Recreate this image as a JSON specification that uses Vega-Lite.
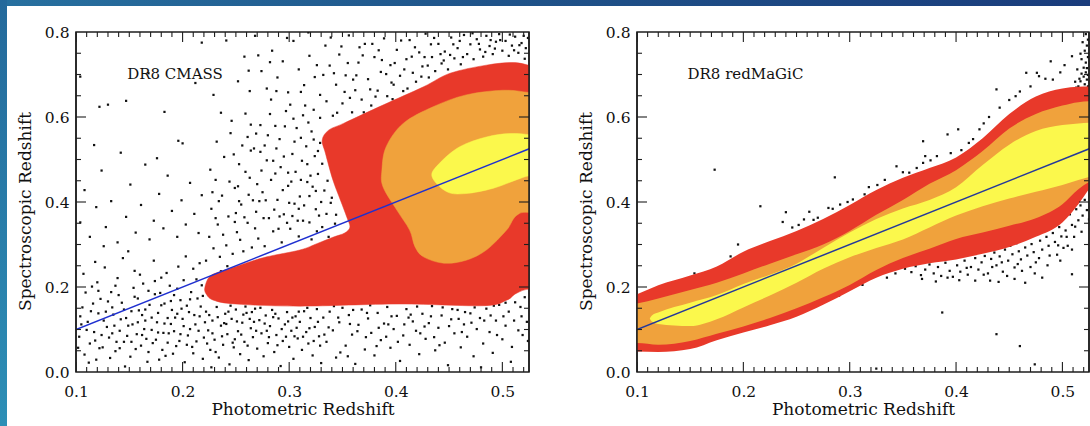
{
  "$schema": "https://vega.github.io/schema/vega-lite/v6.json",
  "background": "white",
  "padding": 0,
  "bounds": "flush",
  "spacing": 0,
  "hconcat": [
    {
      "width": 7,
      "height": 426,
      "data": {"values": [{"v": 0}]},
      "mark": {"type": "point", "opacity": 0},
      "view": {"stroke": null, "fill": {"gradient": "linear", "x1": 0, "y1": 0, "x2": 0, "y2": 1, "stops": [{"offset": 0, "color": "#24699b"}, {"offset": 1, "color": "#2d8fb6"}]}}
    },
    {
      "bounds": "flush",
      "spacing": 26,
      "vconcat": [
        {
          "width": 1083,
          "height": 6,
          "data": {"values": [{"v": 0}]},
          "mark": {"type": "point", "opacity": 0},
          "view": {"stroke": null, "fill": {"gradient": "linear", "x1": 0, "y1": 0, "x2": 1, "y2": 0, "stops": [{"offset": 0, "color": "#27709f"}, {"offset": 0.45, "color": "#1f5389"}, {"offset": 1, "color": "#1a3c7c"}]}}
        },
        {
          "bounds": "flush",
          "spacing": 0,
          "hconcat": [
            {
              "width": 69,
              "height": 340,
              "data": {"values": [{"v": 0}]},
              "mark": {"type": "point", "opacity": 0},
              "view": {"stroke": null}
            },
            {
              "bounds": "flush",
              "spacing": 108,
              "hconcat": [
                {
                  "width": 453,
                  "height": 340,
                  "resolve": {"axis": {"x": "independent", "y": "independent"}},
                  "layer": [
                    {
                      "data": {"name": "cmass_points"},
                      "mark": {"type": "square", "size": 5, "color": "#111111", "opacity": 1, "clip": true},
                      "encoding": {
                        "x": {"field": "x", "type": "quantitative", "scale": {"domain": [0.1, 0.525], "nice": false, "zero": false},
                              "axis": {"orient": "bottom", "values": [0.1, 0.2, 0.3, 0.4, 0.5], "format": ".1f", "ticks": false, "domain": false, "labelFlush": false, "labelPadding": 12, "title": "Photometric Redshift", "titlePadding": 2}},
                        "y": {"field": "y", "type": "quantitative", "scale": {"domain": [0, 0.8], "nice": false, "zero": false},
                              "axis": {"orient": "left", "values": [0, 0.2, 0.4, 0.6, 0.8], "format": ".1f", "ticks": false, "domain": false, "labelFlush": false, "labelPadding": 7, "title": "Spectroscopic Redshift", "titlePadding": 10, "titleY": 179}}
                      }
                    },
                    {
                      "data": {"name": "cmass_contours"},
                      "transform": [{"filter": "datum.level === 'outer'"}],
                      "mark": {"type": "line", "interpolate": "cardinal-closed", "fill": "#e8392a", "stroke": "#e8392a", "strokeWidth": 0.5, "clip": true},
                      "encoding": {
                        "x": {"field": "x", "type": "quantitative", "scale": {"domain": [0.1, 0.525], "nice": false, "zero": false}, "axis": null},
                        "y": {"field": "y", "type": "quantitative", "scale": {"domain": [0, 0.8], "nice": false, "zero": false}, "axis": null},
                        "order": {"field": "i", "type": "quantitative"}
                      }
                    },
                    {
                      "data": {"name": "cmass_contours"},
                      "transform": [{"filter": "datum.level === 'middle'"}],
                      "mark": {"type": "line", "interpolate": "cardinal-closed", "fill": "#f0a23c", "stroke": "#f0a23c", "strokeWidth": 0.5, "clip": true},
                      "encoding": {
                        "x": {"field": "x", "type": "quantitative", "scale": {"domain": [0.1, 0.525], "nice": false, "zero": false}, "axis": null},
                        "y": {"field": "y", "type": "quantitative", "scale": {"domain": [0, 0.8], "nice": false, "zero": false}, "axis": null},
                        "order": {"field": "i", "type": "quantitative"}
                      }
                    },
                    {
                      "data": {"name": "cmass_contours"},
                      "transform": [{"filter": "datum.level === 'inner'"}],
                      "mark": {"type": "line", "interpolate": "cardinal-closed", "fill": "#fbf84c", "stroke": "#fbf84c", "strokeWidth": 0.5, "clip": true},
                      "encoding": {
                        "x": {"field": "x", "type": "quantitative", "scale": {"domain": [0.1, 0.525], "nice": false, "zero": false}, "axis": null},
                        "y": {"field": "y", "type": "quantitative", "scale": {"domain": [0, 0.8], "nice": false, "zero": false}, "axis": null},
                        "order": {"field": "i", "type": "quantitative"}
                      }
                    },
                    {
                      "data": {"name": "diagonal"},
                      "mark": {"type": "line", "color": "#1f30d0", "strokeWidth": 1.5, "clip": true},
                      "encoding": {
                        "x": {"field": "x", "type": "quantitative", "scale": {"domain": [0.1, 0.525], "nice": false, "zero": false}, "axis": null},
                        "y": {"field": "y", "type": "quantitative", "scale": {"domain": [0, 0.8], "nice": false, "zero": false}, "axis": null}
                      }
                    },
                    {
                      "data": {"name": "x_ticks"},
                      "mark": {"type": "tick", "orient": "vertical", "thickness": 1.1, "color": "#1e1e1e", "opacity": 1, "clip": true},
                      "encoding": {
                        "x": {"field": "v", "type": "quantitative", "scale": {"domain": [0.1, 0.525], "nice": false, "zero": false}, "axis": null},
                        "y": {"datum": 0, "scale": {"domain": [0, 0.8], "nice": false, "zero": false}, "axis": null},
                        "size": {"field": "kind", "type": "nominal", "scale": {"domain": ["major", "minor"], "range": [20, 10]}, "legend": null}
                      }
                    },
                    {
                      "data": {"name": "x_ticks"},
                      "mark": {"type": "tick", "orient": "vertical", "thickness": 1.1, "color": "#1e1e1e", "opacity": 1, "clip": true},
                      "encoding": {
                        "x": {"field": "v", "type": "quantitative", "scale": {"domain": [0.1, 0.525], "nice": false, "zero": false}, "axis": null},
                        "y": {"datum": 0.8, "scale": {"domain": [0, 0.8], "nice": false, "zero": false}, "axis": null},
                        "size": {"field": "kind", "type": "nominal", "scale": {"domain": ["major", "minor"], "range": [20, 10]}, "legend": null}
                      }
                    },
                    {
                      "data": {"name": "y_ticks"},
                      "mark": {"type": "tick", "orient": "horizontal", "thickness": 1.1, "color": "#1e1e1e", "opacity": 1, "clip": true},
                      "encoding": {
                        "y": {"field": "v", "type": "quantitative", "scale": {"domain": [0, 0.8], "nice": false, "zero": false}, "axis": null},
                        "x": {"datum": 0.1, "scale": {"domain": [0.1, 0.525], "nice": false, "zero": false}, "axis": null},
                        "size": {"field": "kind", "type": "nominal", "scale": {"domain": ["major", "minor"], "range": [20, 10]}, "legend": null}
                      }
                    },
                    {
                      "data": {"name": "y_ticks"},
                      "mark": {"type": "tick", "orient": "horizontal", "thickness": 1.1, "color": "#1e1e1e", "opacity": 1, "clip": true},
                      "encoding": {
                        "y": {"field": "v", "type": "quantitative", "scale": {"domain": [0, 0.8], "nice": false, "zero": false}, "axis": null},
                        "x": {"datum": 0.525, "scale": {"domain": [0.1, 0.525], "nice": false, "zero": false}, "axis": null},
                        "size": {"field": "kind", "type": "nominal", "scale": {"domain": ["major", "minor"], "range": [20, 10]}, "legend": null}
                      }
                    },
                    {
                      "data": {"name": "frame_edges"},
                      "mark": {"type": "rule", "color": "#1e1e1e", "strokeWidth": 1.5},
                      "encoding": {
                        "x": {"field": "x", "type": "quantitative", "scale": {"domain": [0.1, 0.525], "nice": false, "zero": false}, "axis": null}
                      }
                    },
                    {
                      "data": {"values": [{"x": 0.148, "y": 0.702, "label": "DR8 CMASS"}]},
                      "mark": {"type": "text", "align": "left", "baseline": "middle", "font": "DejaVu Serif", "fontSize": 15, "color": "#111111"},
                      "encoding": {
                        "x": {"field": "x", "type": "quantitative", "scale": {"domain": [0.1, 0.525], "nice": false, "zero": false}, "axis": null},
                        "y": {"field": "y", "type": "quantitative", "scale": {"domain": [0, 0.8], "nice": false, "zero": false}, "axis": null},
                        "text": {"field": "label"}
                      }
                    }
                  ]
                },
                {
                  "width": 452,
                  "height": 340,
                  "resolve": {"axis": {"x": "independent", "y": "independent"}},
                  "layer": [
                    {
                      "data": {"name": "redmagic_points"},
                      "mark": {"type": "square", "size": 5, "color": "#111111", "opacity": 1, "clip": true},
                      "encoding": {
                        "x": {"field": "x", "type": "quantitative", "scale": {"domain": [0.1, 0.525], "nice": false, "zero": false},
                              "axis": {"orient": "bottom", "values": [0.1, 0.2, 0.3, 0.4, 0.5], "format": ".1f", "ticks": false, "domain": false, "labelFlush": false, "labelPadding": 12, "title": "Photometric Redshift", "titlePadding": 2}},
                        "y": {"field": "y", "type": "quantitative", "scale": {"domain": [0, 0.8], "nice": false, "zero": false},
                              "axis": {"orient": "left", "values": [0, 0.2, 0.4, 0.6, 0.8], "format": ".1f", "ticks": false, "domain": false, "labelFlush": false, "labelPadding": 7, "title": "Spectroscopic Redshift", "titlePadding": 10, "titleY": 179}}
                      }
                    },
                    {
                      "data": {"name": "redmagic_bands"},
                      "transform": [{"filter": "datum.level === 'outer'"}],
                      "mark": {"type": "area", "interpolate": "monotone", "color": "#e8392a", "opacity": 1, "clip": true},
                      "encoding": {
                        "x": {"field": "x", "type": "quantitative", "scale": {"domain": [0.1, 0.525], "nice": false, "zero": false}, "axis": null},
                        "y": {"field": "hi", "type": "quantitative", "scale": {"domain": [0, 0.8], "nice": false, "zero": false}, "axis": null},
                        "y2": {"field": "lo"}
                      }
                    },
                    {
                      "data": {"name": "redmagic_bands"},
                      "transform": [{"filter": "datum.level === 'middle'"}],
                      "mark": {"type": "area", "interpolate": "monotone", "color": "#f0a23c", "opacity": 1, "clip": true},
                      "encoding": {
                        "x": {"field": "x", "type": "quantitative", "scale": {"domain": [0.1, 0.525], "nice": false, "zero": false}, "axis": null},
                        "y": {"field": "hi", "type": "quantitative", "scale": {"domain": [0, 0.8], "nice": false, "zero": false}, "axis": null},
                        "y2": {"field": "lo"}
                      }
                    },
                    {
                      "data": {"name": "redmagic_bands"},
                      "transform": [{"filter": "datum.level === 'inner'"}],
                      "mark": {"type": "area", "interpolate": "monotone", "color": "#fbf84c", "opacity": 1, "clip": true},
                      "encoding": {
                        "x": {"field": "x", "type": "quantitative", "scale": {"domain": [0.1, 0.525], "nice": false, "zero": false}, "axis": null},
                        "y": {"field": "hi", "type": "quantitative", "scale": {"domain": [0, 0.8], "nice": false, "zero": false}, "axis": null},
                        "y2": {"field": "lo"}
                      }
                    },
                    {
                      "data": {"name": "diagonal"},
                      "mark": {"type": "line", "color": "#25389a", "strokeWidth": 1.5, "clip": true},
                      "encoding": {
                        "x": {"field": "x", "type": "quantitative", "scale": {"domain": [0.1, 0.525], "nice": false, "zero": false}, "axis": null},
                        "y": {"field": "y", "type": "quantitative", "scale": {"domain": [0, 0.8], "nice": false, "zero": false}, "axis": null}
                      }
                    },
                    {
                      "data": {"name": "x_ticks"},
                      "mark": {"type": "tick", "orient": "vertical", "thickness": 1.1, "color": "#1e1e1e", "opacity": 1, "clip": true},
                      "encoding": {
                        "x": {"field": "v", "type": "quantitative", "scale": {"domain": [0.1, 0.525], "nice": false, "zero": false}, "axis": null},
                        "y": {"datum": 0, "scale": {"domain": [0, 0.8], "nice": false, "zero": false}, "axis": null},
                        "size": {"field": "kind", "type": "nominal", "scale": {"domain": ["major", "minor"], "range": [20, 10]}, "legend": null}
                      }
                    },
                    {
                      "data": {"name": "x_ticks"},
                      "mark": {"type": "tick", "orient": "vertical", "thickness": 1.1, "color": "#1e1e1e", "opacity": 1, "clip": true},
                      "encoding": {
                        "x": {"field": "v", "type": "quantitative", "scale": {"domain": [0.1, 0.525], "nice": false, "zero": false}, "axis": null},
                        "y": {"datum": 0.8, "scale": {"domain": [0, 0.8], "nice": false, "zero": false}, "axis": null},
                        "size": {"field": "kind", "type": "nominal", "scale": {"domain": ["major", "minor"], "range": [20, 10]}, "legend": null}
                      }
                    },
                    {
                      "data": {"name": "y_ticks"},
                      "mark": {"type": "tick", "orient": "horizontal", "thickness": 1.1, "color": "#1e1e1e", "opacity": 1, "clip": true},
                      "encoding": {
                        "y": {"field": "v", "type": "quantitative", "scale": {"domain": [0, 0.8], "nice": false, "zero": false}, "axis": null},
                        "x": {"datum": 0.1, "scale": {"domain": [0.1, 0.525], "nice": false, "zero": false}, "axis": null},
                        "size": {"field": "kind", "type": "nominal", "scale": {"domain": ["major", "minor"], "range": [20, 10]}, "legend": null}
                      }
                    },
                    {
                      "data": {"name": "y_ticks"},
                      "mark": {"type": "tick", "orient": "horizontal", "thickness": 1.1, "color": "#1e1e1e", "opacity": 1, "clip": true},
                      "encoding": {
                        "y": {"field": "v", "type": "quantitative", "scale": {"domain": [0, 0.8], "nice": false, "zero": false}, "axis": null},
                        "x": {"datum": 0.525, "scale": {"domain": [0.1, 0.525], "nice": false, "zero": false}, "axis": null},
                        "size": {"field": "kind", "type": "nominal", "scale": {"domain": ["major", "minor"], "range": [20, 10]}, "legend": null}
                      }
                    },
                    {
                      "data": {"name": "frame_edges"},
                      "mark": {"type": "rule", "color": "#1e1e1e", "strokeWidth": 1.5},
                      "encoding": {
                        "x": {"field": "x", "type": "quantitative", "scale": {"domain": [0.1, 0.525], "nice": false, "zero": false}, "axis": null}
                      }
                    },
                    {
                      "data": {"values": [{"x": 0.1475, "y": 0.702, "label": "DR8 redMaGiC"}]},
                      "mark": {"type": "text", "align": "left", "baseline": "middle", "font": "DejaVu Serif", "fontSize": 15, "color": "#111111"},
                      "encoding": {
                        "x": {"field": "x", "type": "quantitative", "scale": {"domain": [0.1, 0.525], "nice": false, "zero": false}, "axis": null},
                        "y": {"field": "y", "type": "quantitative", "scale": {"domain": [0, 0.8], "nice": false, "zero": false}, "axis": null},
                        "text": {"field": "label"}
                      }
                    }
                  ]
                }
              ]
            }
          ]
        }
      ]
    }
  ],
  "datasets": {
    "diagonal": [{"x": 0.1, "y": 0.1}, {"x": 0.53, "y": 0.53}],
    "frame_edges": [{"x": 0.1}, {"x": 0.525}],
    "x_ticks": [
      {"v":0.1,"kind":"major"},{"v":0.2,"kind":"major"},{"v":0.3,"kind":"major"},{"v":0.4,"kind":"major"},{"v":0.5,"kind":"major"},
      {"v":0.11,"kind":"minor"},{"v":0.12,"kind":"minor"},{"v":0.13,"kind":"minor"},{"v":0.14,"kind":"minor"},{"v":0.15,"kind":"minor"},{"v":0.16,"kind":"minor"},{"v":0.17,"kind":"minor"},{"v":0.18,"kind":"minor"},{"v":0.19,"kind":"minor"},
      {"v":0.21,"kind":"minor"},{"v":0.22,"kind":"minor"},{"v":0.23,"kind":"minor"},{"v":0.24,"kind":"minor"},{"v":0.25,"kind":"minor"},{"v":0.26,"kind":"minor"},{"v":0.27,"kind":"minor"},{"v":0.28,"kind":"minor"},{"v":0.29,"kind":"minor"},
      {"v":0.31,"kind":"minor"},{"v":0.32,"kind":"minor"},{"v":0.33,"kind":"minor"},{"v":0.34,"kind":"minor"},{"v":0.35,"kind":"minor"},{"v":0.36,"kind":"minor"},{"v":0.37,"kind":"minor"},{"v":0.38,"kind":"minor"},{"v":0.39,"kind":"minor"},
      {"v":0.41,"kind":"minor"},{"v":0.42,"kind":"minor"},{"v":0.43,"kind":"minor"},{"v":0.44,"kind":"minor"},{"v":0.45,"kind":"minor"},{"v":0.46,"kind":"minor"},{"v":0.47,"kind":"minor"},{"v":0.48,"kind":"minor"},{"v":0.49,"kind":"minor"},
      {"v":0.51,"kind":"minor"},{"v":0.52,"kind":"minor"}
    ],
    "y_ticks": [
      {"v":0.2,"kind":"major"},{"v":0.4,"kind":"major"},{"v":0.6,"kind":"major"},
      {"v":0.05,"kind":"minor"},{"v":0.1,"kind":"minor"},{"v":0.15,"kind":"minor"},{"v":0.25,"kind":"minor"},{"v":0.3,"kind":"minor"},{"v":0.35,"kind":"minor"},
      {"v":0.45,"kind":"minor"},{"v":0.5,"kind":"minor"},{"v":0.55,"kind":"minor"},{"v":0.65,"kind":"minor"},{"v":0.7,"kind":"minor"},{"v":0.75,"kind":"minor"}
    ],
    "cmass_contours": [
      {"level": "outer", "i": 0, "x": 0.221, "y": 0.200},
      {"level": "outer", "i": 1, "x": 0.226, "y": 0.226},
      {"level": "outer", "i": 2, "x": 0.240, "y": 0.240},
      {"level": "outer", "i": 3, "x": 0.259, "y": 0.256},
      {"level": "outer", "i": 4, "x": 0.279, "y": 0.271},
      {"level": "outer", "i": 5, "x": 0.310, "y": 0.287},
      {"level": "outer", "i": 6, "x": 0.326, "y": 0.302},
      {"level": "outer", "i": 7, "x": 0.341, "y": 0.317},
      {"level": "outer", "i": 8, "x": 0.352, "y": 0.327},
      {"level": "outer", "i": 9, "x": 0.357, "y": 0.341},
      {"level": "outer", "i": 10, "x": 0.354, "y": 0.365},
      {"level": "outer", "i": 11, "x": 0.348, "y": 0.405},
      {"level": "outer", "i": 12, "x": 0.341, "y": 0.452},
      {"level": "outer", "i": 13, "x": 0.334, "y": 0.515},
      {"level": "outer", "i": 14, "x": 0.331, "y": 0.546},
      {"level": "outer", "i": 15, "x": 0.337, "y": 0.569},
      {"level": "outer", "i": 16, "x": 0.351, "y": 0.585},
      {"level": "outer", "i": 17, "x": 0.388, "y": 0.628},
      {"level": "outer", "i": 18, "x": 0.426, "y": 0.671},
      {"level": "outer", "i": 19, "x": 0.451, "y": 0.703},
      {"level": "outer", "i": 20, "x": 0.485, "y": 0.722},
      {"level": "outer", "i": 21, "x": 0.510, "y": 0.728},
      {"level": "outer", "i": 22, "x": 0.527, "y": 0.720},
      {"level": "outer", "i": 23, "x": 0.550, "y": 0.700},
      {"level": "outer", "i": 24, "x": 0.550, "y": 0.180},
      {"level": "outer", "i": 25, "x": 0.527, "y": 0.195},
      {"level": "outer", "i": 26, "x": 0.513, "y": 0.185},
      {"level": "outer", "i": 27, "x": 0.504, "y": 0.169},
      {"level": "outer", "i": 28, "x": 0.482, "y": 0.156},
      {"level": "outer", "i": 29, "x": 0.404, "y": 0.160},
      {"level": "outer", "i": 30, "x": 0.310, "y": 0.155},
      {"level": "outer", "i": 31, "x": 0.250, "y": 0.160},
      {"level": "outer", "i": 32, "x": 0.229, "y": 0.169},
      {"level": "outer", "i": 33, "x": 0.222, "y": 0.184},
      {"level": "middle", "i": 0, "x": 0.387, "y": 0.475},
      {"level": "middle", "i": 1, "x": 0.391, "y": 0.530},
      {"level": "middle", "i": 2, "x": 0.407, "y": 0.585},
      {"level": "middle", "i": 3, "x": 0.435, "y": 0.624},
      {"level": "middle", "i": 4, "x": 0.466, "y": 0.652},
      {"level": "middle", "i": 5, "x": 0.501, "y": 0.663},
      {"level": "middle", "i": 6, "x": 0.527, "y": 0.657},
      {"level": "middle", "i": 7, "x": 0.550, "y": 0.650},
      {"level": "middle", "i": 8, "x": 0.550, "y": 0.400},
      {"level": "middle", "i": 9, "x": 0.516, "y": 0.373},
      {"level": "middle", "i": 10, "x": 0.504, "y": 0.334},
      {"level": "middle", "i": 11, "x": 0.485, "y": 0.287},
      {"level": "middle", "i": 12, "x": 0.466, "y": 0.263},
      {"level": "middle", "i": 13, "x": 0.445, "y": 0.256},
      {"level": "middle", "i": 14, "x": 0.426, "y": 0.271},
      {"level": "middle", "i": 15, "x": 0.418, "y": 0.295},
      {"level": "middle", "i": 16, "x": 0.413, "y": 0.334},
      {"level": "middle", "i": 17, "x": 0.401, "y": 0.381},
      {"level": "middle", "i": 18, "x": 0.388, "y": 0.436},
      {"level": "inner", "i": 0, "x": 0.434, "y": 0.460},
      {"level": "inner", "i": 1, "x": 0.441, "y": 0.491},
      {"level": "inner", "i": 2, "x": 0.460, "y": 0.530},
      {"level": "inner", "i": 3, "x": 0.485, "y": 0.553},
      {"level": "inner", "i": 4, "x": 0.507, "y": 0.561},
      {"level": "inner", "i": 5, "x": 0.527, "y": 0.558},
      {"level": "inner", "i": 6, "x": 0.550, "y": 0.550},
      {"level": "inner", "i": 7, "x": 0.550, "y": 0.470},
      {"level": "inner", "i": 8, "x": 0.527, "y": 0.463},
      {"level": "inner", "i": 9, "x": 0.513, "y": 0.452},
      {"level": "inner", "i": 10, "x": 0.491, "y": 0.432},
      {"level": "inner", "i": 11, "x": 0.466, "y": 0.420},
      {"level": "inner", "i": 12, "x": 0.448, "y": 0.424}
    ],
    "redmagic_bands": [
      {"level": "outer", "x": 0.09, "lo": 0.048, "hi": 0.175},
      {"level": "outer", "x": 0.10, "lo": 0.048, "hi": 0.183},
      {"level": "outer", "x": 0.12, "lo": 0.047, "hi": 0.204},
      {"level": "outer", "x": 0.15, "lo": 0.054, "hi": 0.227},
      {"level": "outer", "x": 0.175, "lo": 0.075, "hi": 0.248},
      {"level": "outer", "x": 0.20, "lo": 0.093, "hi": 0.283},
      {"level": "outer", "x": 0.225, "lo": 0.110, "hi": 0.308},
      {"level": "outer", "x": 0.25, "lo": 0.130, "hi": 0.332},
      {"level": "outer", "x": 0.275, "lo": 0.158, "hi": 0.360},
      {"level": "outer", "x": 0.30, "lo": 0.190, "hi": 0.393},
      {"level": "outer", "x": 0.325, "lo": 0.222, "hi": 0.428},
      {"level": "outer", "x": 0.35, "lo": 0.243, "hi": 0.457},
      {"level": "outer", "x": 0.375, "lo": 0.256, "hi": 0.480},
      {"level": "outer", "x": 0.40, "lo": 0.265, "hi": 0.505},
      {"level": "outer", "x": 0.425, "lo": 0.278, "hi": 0.550},
      {"level": "outer", "x": 0.45, "lo": 0.294, "hi": 0.607},
      {"level": "outer", "x": 0.475, "lo": 0.318, "hi": 0.648},
      {"level": "outer", "x": 0.50, "lo": 0.352, "hi": 0.667},
      {"level": "outer", "x": 0.515, "lo": 0.395, "hi": 0.671},
      {"level": "outer", "x": 0.535, "lo": 0.470, "hi": 0.672},
      {"level": "middle", "x": 0.09, "lo": 0.068, "hi": 0.156},
      {"level": "middle", "x": 0.10, "lo": 0.068, "hi": 0.161},
      {"level": "middle", "x": 0.12, "lo": 0.064, "hi": 0.173},
      {"level": "middle", "x": 0.15, "lo": 0.073, "hi": 0.193},
      {"level": "middle", "x": 0.175, "lo": 0.090, "hi": 0.210},
      {"level": "middle", "x": 0.20, "lo": 0.107, "hi": 0.232},
      {"level": "middle", "x": 0.225, "lo": 0.127, "hi": 0.255},
      {"level": "middle", "x": 0.25, "lo": 0.150, "hi": 0.277},
      {"level": "middle", "x": 0.275, "lo": 0.176, "hi": 0.300},
      {"level": "middle", "x": 0.30, "lo": 0.205, "hi": 0.332},
      {"level": "middle", "x": 0.325, "lo": 0.240, "hi": 0.370},
      {"level": "middle", "x": 0.35, "lo": 0.268, "hi": 0.405},
      {"level": "middle", "x": 0.375, "lo": 0.290, "hi": 0.443},
      {"level": "middle", "x": 0.40, "lo": 0.313, "hi": 0.475},
      {"level": "middle", "x": 0.425, "lo": 0.328, "hi": 0.520},
      {"level": "middle", "x": 0.45, "lo": 0.344, "hi": 0.573},
      {"level": "middle", "x": 0.475, "lo": 0.362, "hi": 0.607},
      {"level": "middle", "x": 0.50, "lo": 0.395, "hi": 0.627},
      {"level": "middle", "x": 0.515, "lo": 0.430, "hi": 0.635},
      {"level": "middle", "x": 0.535, "lo": 0.460, "hi": 0.638},
      {"level": "inner", "x": 0.112, "lo": 0.126, "hi": 0.126},
      {"level": "inner", "x": 0.114, "lo": 0.119, "hi": 0.133},
      {"level": "inner", "x": 0.12, "lo": 0.113, "hi": 0.140},
      {"level": "inner", "x": 0.15, "lo": 0.108, "hi": 0.163},
      {"level": "inner", "x": 0.175, "lo": 0.124, "hi": 0.181},
      {"level": "inner", "x": 0.20, "lo": 0.152, "hi": 0.207},
      {"level": "inner", "x": 0.225, "lo": 0.180, "hi": 0.229},
      {"level": "inner", "x": 0.25, "lo": 0.210, "hi": 0.255},
      {"level": "inner", "x": 0.275, "lo": 0.243, "hi": 0.292},
      {"level": "inner", "x": 0.30, "lo": 0.270, "hi": 0.328},
      {"level": "inner", "x": 0.325, "lo": 0.292, "hi": 0.360},
      {"level": "inner", "x": 0.35, "lo": 0.312, "hi": 0.385},
      {"level": "inner", "x": 0.375, "lo": 0.340, "hi": 0.405},
      {"level": "inner", "x": 0.40, "lo": 0.368, "hi": 0.435},
      {"level": "inner", "x": 0.425, "lo": 0.390, "hi": 0.487},
      {"level": "inner", "x": 0.45, "lo": 0.408, "hi": 0.535},
      {"level": "inner", "x": 0.475, "lo": 0.424, "hi": 0.567},
      {"level": "inner", "x": 0.50, "lo": 0.440, "hi": 0.581},
      {"level": "inner", "x": 0.515, "lo": 0.452, "hi": 0.585},
      {"level": "inner", "x": 0.535, "lo": 0.465, "hi": 0.587}
    ],
    "cmass_points": [
      {"x":0.103,"y":0.083},{"x":0.106,"y":0.152},{"x":0.108,"y":0.041},{"x":0.111,"y":0.118},{"x":0.113,"y":0.067},{"x":0.115,"y":0.201},{"x":0.117,"y":0.094},{"x":0.119,"y":0.029},{"x":0.121,"y":0.138},{"x":0.123,"y":0.172},
      {"x":0.125,"y":0.058},{"x":0.127,"y":0.246},{"x":0.129,"y":0.106},{"x":0.131,"y":0.081},{"x":0.133,"y":0.188},{"x":0.135,"y":0.135},{"x":0.137,"y":0.049},{"x":0.139,"y":0.221},{"x":0.141,"y":0.097},{"x":0.143,"y":0.163},
      {"x":0.145,"y":0.071},{"x":0.147,"y":0.127},{"x":0.149,"y":0.284},{"x":0.151,"y":0.036},{"x":0.153,"y":0.112},{"x":0.155,"y":0.177},{"x":0.157,"y":0.089},{"x":0.159,"y":0.145},{"x":0.161,"y":0.062},{"x":0.163,"y":0.208},
      {"x":0.165,"y":0.121},{"x":0.167,"y":0.024},{"x":0.169,"y":0.158},{"x":0.171,"y":0.099},{"x":0.173,"y":0.262},{"x":0.175,"y":0.076},{"x":0.177,"y":0.139},{"x":0.179,"y":0.186},{"x":0.181,"y":0.052},{"x":0.183,"y":0.114},
      {"x":0.185,"y":0.233},{"x":0.187,"y":0.091},{"x":0.189,"y":0.167},{"x":0.191,"y":0.043},{"x":0.193,"y":0.128},{"x":0.195,"y":0.196},{"x":0.197,"y":0.073},{"x":0.199,"y":0.149},{"x":0.201,"y":0.108},{"x":0.203,"y":0.272},
      {"x":0.205,"y":0.086},{"x":0.207,"y":0.171},{"x":0.209,"y":0.059},{"x":0.211,"y":0.134},{"x":0.213,"y":0.218},{"x":0.215,"y":0.097},{"x":0.217,"y":0.154},{"x":0.219,"y":0.031},{"x":0.104,"y":0.131},{"x":0.109,"y":0.187},
      {"x":0.112,"y":0.022},{"x":0.116,"y":0.161},{"x":0.120,"y":0.211},{"x":0.124,"y":0.087},{"x":0.128,"y":0.142},{"x":0.132,"y":0.033},{"x":0.136,"y":0.109},{"x":0.140,"y":0.181},{"x":0.144,"y":0.268},{"x":0.148,"y":0.085},
      {"x":0.152,"y":0.143},{"x":0.156,"y":0.054},{"x":0.160,"y":0.229},{"x":0.164,"y":0.101},{"x":0.168,"y":0.191},{"x":0.172,"y":0.068},{"x":0.176,"y":0.117},{"x":0.180,"y":0.157},{"x":0.184,"y":0.038},{"x":0.188,"y":0.203},
      {"x":0.192,"y":0.096},{"x":0.196,"y":0.248},{"x":0.200,"y":0.125},{"x":0.204,"y":0.064},{"x":0.208,"y":0.188},{"x":0.212,"y":0.112},{"x":0.216,"y":0.256},{"x":0.220,"y":0.081},{"x":0.107,"y":0.231},{"x":0.118,"y":0.259},
      {"x":0.126,"y":0.296},{"x":0.134,"y":0.152},{"x":0.142,"y":0.124},{"x":0.154,"y":0.198},{"x":0.162,"y":0.134},{"x":0.174,"y":0.214},{"x":0.182,"y":0.092},{"x":0.190,"y":0.146},{"x":0.198,"y":0.169},{"x":0.206,"y":0.141},
      {"x":0.214,"y":0.173},{"x":0.218,"y":0.204},{"x":0.110,"y":0.099},{"x":0.122,"y":0.056},{"x":0.138,"y":0.071},{"x":0.146,"y":0.013},{"x":0.158,"y":0.117},{"x":0.166,"y":0.078},{"x":0.178,"y":0.029},{"x":0.186,"y":0.127},
      {"x":0.194,"y":0.061},{"x":0.202,"y":0.023},{"x":0.210,"y":0.044},
      {"x":0.102,"y":0.057},{"x":0.105,"y":0.112},{"x":0.114,"y":0.143},{"x":0.118,"y":0.074},{"x":0.121,"y":0.191},{"x":0.126,"y":0.121},{"x":0.130,"y":0.166},{"x":0.134,"y":0.091},{"x":0.137,"y":0.203},{"x":0.141,"y":0.056},
      {"x":0.145,"y":0.147},{"x":0.149,"y":0.109},{"x":0.152,"y":0.071},{"x":0.155,"y":0.238},{"x":0.158,"y":0.173},{"x":0.162,"y":0.087},{"x":0.165,"y":0.147},{"x":0.168,"y":0.047},{"x":0.171,"y":0.128},{"x":0.174,"y":0.183},
      {"x":0.177,"y":0.093},{"x":0.180,"y":0.222},{"x":0.183,"y":0.161},{"x":0.186,"y":0.069},{"x":0.189,"y":0.113},{"x":0.192,"y":0.181},{"x":0.195,"y":0.137},{"x":0.198,"y":0.089},{"x":0.201,"y":0.216},{"x":0.204,"y":0.156},
      {"x":0.207,"y":0.101},{"x":0.210,"y":0.243},{"x":0.213,"y":0.072},{"x":0.216,"y":0.131},{"x":0.219,"y":0.179},{"x":0.221,"y":0.117},{"x":0.223,"y":0.067},{"x":0.225,"y":0.134},{"x":0.228,"y":0.091},{"x":0.231,"y":0.047},
      {"x":0.233,"y":0.129},{"x":0.237,"y":0.084},{"x":0.241,"y":0.113},{"x":0.243,"y":0.142},{"x":0.247,"y":0.069},{"x":0.251,"y":0.119},{"x":0.255,"y":0.088},{"x":0.257,"y":0.135},{"x":0.261,"y":0.062},{"x":0.265,"y":0.141},
      {"x":0.269,"y":0.097},{"x":0.273,"y":0.151},{"x":0.277,"y":0.114},{"x":0.281,"y":0.082},{"x":0.287,"y":0.137},{"x":0.293,"y":0.101},{"x":0.297,"y":0.083},{"x":0.303,"y":0.128},{"x":0.307,"y":0.104},{"x":0.313,"y":0.083},
      {"x":0.317,"y":0.151},{"x":0.323,"y":0.073},{"x":0.327,"y":0.118},
      {"x":0.104,"y":0.352},{"x":0.108,"y":0.428},{"x":0.113,"y":0.318},{"x":0.119,"y":0.388},{"x":0.124,"y":0.474},{"x":0.128,"y":0.341},{"x":0.133,"y":0.402},{"x":0.139,"y":0.305},{"x":0.142,"y":0.516},{"x":0.147,"y":0.365},
      {"x":0.151,"y":0.441},{"x":0.156,"y":0.328},{"x":0.161,"y":0.393},{"x":0.165,"y":0.488},{"x":0.169,"y":0.312},{"x":0.173,"y":0.356},{"x":0.178,"y":0.419},{"x":0.182,"y":0.338},{"x":0.186,"y":0.462},{"x":0.190,"y":0.379},
      {"x":0.195,"y":0.318},{"x":0.199,"y":0.404},{"x":0.203,"y":0.347},{"x":0.207,"y":0.445},{"x":0.211,"y":0.372},{"x":0.215,"y":0.327},{"x":0.218,"y":0.416},{"x":0.200,"y":0.538},{"x":0.176,"y":0.503},{"x":0.117,"y":0.534},
      {"x":0.122,"y":0.624},{"x":0.130,"y":0.629},{"x":0.147,"y":0.638},{"x":0.183,"y":0.612},{"x":0.196,"y":0.544},{"x":0.168,"y":0.703},{"x":0.104,"y":0.695},{"x":0.229,"y":0.652},{"x":0.236,"y":0.610},{"x":0.218,"y":0.775},
      {"x":0.212,"y":0.680},{"x":0.241,"y":0.780},
      {"x":0.222,"y":0.142},{"x":0.224,"y":0.098},{"x":0.226,"y":0.052},{"x":0.228,"y":0.121},{"x":0.230,"y":0.076},{"x":0.232,"y":0.153},{"x":0.234,"y":0.034},{"x":0.236,"y":0.109},{"x":0.238,"y":0.064},{"x":0.240,"y":0.137},
      {"x":0.242,"y":0.089},{"x":0.244,"y":0.018},{"x":0.246,"y":0.125},{"x":0.248,"y":0.058},{"x":0.250,"y":0.147},{"x":0.252,"y":0.096},{"x":0.254,"y":0.042},{"x":0.256,"y":0.116},{"x":0.258,"y":0.071},{"x":0.260,"y":0.139},
      {"x":0.262,"y":0.028},{"x":0.264,"y":0.103},{"x":0.266,"y":0.082},{"x":0.268,"y":0.149},{"x":0.270,"y":0.055},{"x":0.272,"y":0.122},{"x":0.274,"y":0.091},{"x":0.276,"y":0.037},{"x":0.278,"y":0.133},{"x":0.280,"y":0.068},
      {"x":0.282,"y":0.108},{"x":0.284,"y":0.146},{"x":0.286,"y":0.047},{"x":0.288,"y":0.087},{"x":0.290,"y":0.126},{"x":0.292,"y":0.014},{"x":0.294,"y":0.073},{"x":0.296,"y":0.112},{"x":0.298,"y":0.141},{"x":0.300,"y":0.059},
      {"x":0.302,"y":0.097},{"x":0.304,"y":0.031},{"x":0.306,"y":0.131},{"x":0.308,"y":0.079},{"x":0.310,"y":0.118},{"x":0.312,"y":0.052},{"x":0.314,"y":0.143},{"x":0.316,"y":0.094},{"x":0.318,"y":0.067},{"x":0.320,"y":0.127},
      {"x":0.322,"y":0.039},{"x":0.324,"y":0.106},{"x":0.326,"y":0.148},{"x":0.328,"y":0.084},{"x":0.330,"y":0.021},{"x":0.227,"y":0.011},{"x":0.239,"y":0.115},{"x":0.249,"y":0.077},{"x":0.259,"y":0.154},{"x":0.267,"y":0.118},
      {"x":0.279,"y":0.097},{"x":0.289,"y":0.063},{"x":0.299,"y":0.119},{"x":0.309,"y":0.142},{"x":0.319,"y":0.103},{"x":0.329,"y":0.062},{"x":0.245,"y":0.156},{"x":0.263,"y":0.125},{"x":0.285,"y":0.129},{"x":0.305,"y":0.084},
      {"x":0.222,"y":0.262},{"x":0.225,"y":0.318},{"x":0.227,"y":0.384},{"x":0.229,"y":0.291},{"x":0.231,"y":0.452},{"x":0.233,"y":0.347},{"x":0.235,"y":0.271},{"x":0.237,"y":0.415},{"x":0.239,"y":0.506},{"x":0.241,"y":0.298},
      {"x":0.243,"y":0.366},{"x":0.245,"y":0.562},{"x":0.247,"y":0.278},{"x":0.249,"y":0.433},{"x":0.251,"y":0.329},{"x":0.253,"y":0.489},{"x":0.255,"y":0.394},{"x":0.257,"y":0.284},{"x":0.259,"y":0.608},{"x":0.261,"y":0.351},
      {"x":0.263,"y":0.457},{"x":0.265,"y":0.293},{"x":0.267,"y":0.526},{"x":0.269,"y":0.377},{"x":0.271,"y":0.314},{"x":0.273,"y":0.581},{"x":0.275,"y":0.423},{"x":0.277,"y":0.296},{"x":0.279,"y":0.498},{"x":0.281,"y":0.362},
      {"x":0.283,"y":0.641},{"x":0.285,"y":0.331},{"x":0.287,"y":0.467},{"x":0.289,"y":0.405},{"x":0.291,"y":0.548},{"x":0.293,"y":0.305},{"x":0.295,"y":0.371},{"x":0.297,"y":0.614},{"x":0.299,"y":0.438},{"x":0.301,"y":0.337},
      {"x":0.303,"y":0.513},{"x":0.305,"y":0.396},{"x":0.307,"y":0.574},{"x":0.309,"y":0.319},{"x":0.311,"y":0.452},{"x":0.313,"y":0.356},{"x":0.315,"y":0.627},{"x":0.317,"y":0.489},{"x":0.319,"y":0.414},{"x":0.321,"y":0.312},
      {"x":0.323,"y":0.547},{"x":0.325,"y":0.383},{"x":0.327,"y":0.466},{"x":0.329,"y":0.598},{"x":0.331,"y":0.341},{"x":0.333,"y":0.427},{"x":0.335,"y":0.372},{"x":0.337,"y":0.318},{"x":0.339,"y":0.398},{"x":0.343,"y":0.349},
      {"x":0.226,"y":0.476},{"x":0.232,"y":0.542},{"x":0.238,"y":0.323},{"x":0.244,"y":0.448},{"x":0.250,"y":0.374},{"x":0.256,"y":0.533},{"x":0.262,"y":0.417},{"x":0.268,"y":0.338},{"x":0.274,"y":0.474},{"x":0.280,"y":0.557},
      {"x":0.286,"y":0.382},{"x":0.292,"y":0.482},{"x":0.298,"y":0.351},{"x":0.304,"y":0.596},{"x":0.310,"y":0.413},{"x":0.316,"y":0.531},{"x":0.322,"y":0.436},{"x":0.328,"y":0.368},{"x":0.324,"y":0.508},{"x":0.318,"y":0.587},
      {"x":0.306,"y":0.471},{"x":0.294,"y":0.428},{"x":0.282,"y":0.607},{"x":0.270,"y":0.442},{"x":0.258,"y":0.364},{"x":0.246,"y":0.591},{"x":0.234,"y":0.402},{"x":0.276,"y":0.362},{"x":0.288,"y":0.526},{"x":0.300,"y":0.398},
      {"x":0.312,"y":0.497},{"x":0.326,"y":0.331},{"x":0.290,"y":0.337},{"x":0.266,"y":0.404},{"x":0.254,"y":0.311},{"x":0.242,"y":0.249},{"x":0.236,"y":0.237},{"x":0.308,"y":0.356},{"x":0.296,"y":0.578},{"x":0.320,"y":0.462},
      {"x":0.314,"y":0.392},{"x":0.302,"y":0.448},{"x":0.278,"y":0.404},{"x":0.264,"y":0.582},{"x":0.252,"y":0.437},{"x":0.336,"y":0.450},{"x":0.340,"y":0.410},{"x":0.344,"y":0.370},{"x":0.331,"y":0.490},{"x":0.327,"y":0.520},
      {"x":0.330,"y":0.400},
      {"x":0.248,"y":0.512},{"x":0.253,"y":0.402},{"x":0.259,"y":0.471},{"x":0.264,"y":0.521},{"x":0.269,"y":0.561},{"x":0.272,"y":0.402},{"x":0.277,"y":0.533},{"x":0.283,"y":0.452},{"x":0.287,"y":0.579},{"x":0.291,"y":0.366},
      {"x":0.295,"y":0.507},{"x":0.299,"y":0.469},{"x":0.301,"y":0.629},{"x":0.305,"y":0.542},{"x":0.309,"y":0.384},{"x":0.313,"y":0.604},{"x":0.317,"y":0.447},{"x":0.321,"y":0.566},{"x":0.325,"y":0.426},{"x":0.329,"y":0.539},
      {"x":0.323,"y":0.617},{"x":0.311,"y":0.551},{"x":0.303,"y":0.367},{"x":0.319,"y":0.352},{"x":0.285,"y":0.497},{"x":0.273,"y":0.518},{"x":0.261,"y":0.553},{"x":0.249,"y":0.353},{"x":0.231,"y":0.362},{"x":0.228,"y":0.423},
      {"x":0.252,"y":0.684},{"x":0.258,"y":0.742},{"x":0.263,"y":0.661},{"x":0.268,"y":0.791},{"x":0.274,"y":0.708},{"x":0.279,"y":0.667},{"x":0.284,"y":0.756},{"x":0.289,"y":0.693},{"x":0.294,"y":0.731},{"x":0.299,"y":0.658},
      {"x":0.304,"y":0.779},{"x":0.309,"y":0.712},{"x":0.314,"y":0.675},{"x":0.319,"y":0.744},{"x":0.324,"y":0.694},{"x":0.329,"y":0.652},{"x":0.334,"y":0.768},{"x":0.338,"y":0.721},{"x":0.341,"y":0.603},{"x":0.344,"y":0.676},
      {"x":0.347,"y":0.747},{"x":0.350,"y":0.632},{"x":0.353,"y":0.698},{"x":0.356,"y":0.792},{"x":0.359,"y":0.611},{"x":0.362,"y":0.663},{"x":0.365,"y":0.728},{"x":0.368,"y":0.641},{"x":0.371,"y":0.772},{"x":0.374,"y":0.689},
      {"x":0.377,"y":0.627},{"x":0.380,"y":0.741},{"x":0.383,"y":0.662},{"x":0.386,"y":0.706},{"x":0.389,"y":0.785},{"x":0.392,"y":0.649},{"x":0.395,"y":0.722},{"x":0.398,"y":0.676},{"x":0.401,"y":0.758},{"x":0.404,"y":0.697},
      {"x":0.407,"y":0.661},{"x":0.410,"y":0.736},{"x":0.413,"y":0.781},{"x":0.416,"y":0.704},{"x":0.419,"y":0.683},{"x":0.422,"y":0.752},{"x":0.425,"y":0.719},{"x":0.428,"y":0.796},{"x":0.431,"y":0.693},{"x":0.434,"y":0.741},
      {"x":0.437,"y":0.708},{"x":0.440,"y":0.772},{"x":0.443,"y":0.726},{"x":0.446,"y":0.754},{"x":0.449,"y":0.712},{"x":0.452,"y":0.787},{"x":0.455,"y":0.738},{"x":0.458,"y":0.762},{"x":0.461,"y":0.724},{"x":0.464,"y":0.793},
      {"x":0.467,"y":0.748},{"x":0.470,"y":0.771},{"x":0.473,"y":0.736},{"x":0.476,"y":0.783},{"x":0.479,"y":0.759},{"x":0.482,"y":0.742},{"x":0.485,"y":0.791},{"x":0.488,"y":0.767},{"x":0.491,"y":0.748},{"x":0.494,"y":0.777},
      {"x":0.497,"y":0.795},{"x":0.500,"y":0.756},{"x":0.503,"y":0.779},{"x":0.506,"y":0.744},{"x":0.509,"y":0.768},{"x":0.512,"y":0.789},{"x":0.515,"y":0.751},{"x":0.518,"y":0.774},{"x":0.521,"y":0.737},{"x":0.524,"y":0.786},
      {"x":0.522,"y":0.762},{"x":0.360,"y":0.688},{"x":0.370,"y":0.611},{"x":0.378,"y":0.772},{"x":0.387,"y":0.734},{"x":0.396,"y":0.681},{"x":0.405,"y":0.780},{"x":0.415,"y":0.742},{"x":0.424,"y":0.695},{"x":0.433,"y":0.771},
      {"x":0.442,"y":0.748},{"x":0.460,"y":0.779},{"x":0.472,"y":0.797},{"x":0.489,"y":0.781},{"x":0.345,"y":0.610},{"x":0.355,"y":0.727},{"x":0.366,"y":0.764},{"x":0.352,"y":0.659},{"x":0.339,"y":0.787},{"x":0.326,"y":0.722},
      {"x":0.318,"y":0.799},{"x":0.298,"y":0.786},{"x":0.282,"y":0.729},{"x":0.271,"y":0.745},{"x":0.262,"y":0.709},{"x":0.288,"y":0.661},{"x":0.311,"y":0.659},{"x":0.332,"y":0.699},{"x":0.381,"y":0.648},{"x":0.397,"y":0.642},
      {"x":0.411,"y":0.667},{"x":0.430,"y":0.721},{"x":0.451,"y":0.746},
      {"x":0.335,"y":0.637},{"x":0.342,"y":0.703},{"x":0.349,"y":0.766},{"x":0.357,"y":0.645},{"x":0.363,"y":0.698},{"x":0.369,"y":0.745},{"x":0.376,"y":0.665},{"x":0.384,"y":0.757},{"x":0.391,"y":0.701},{"x":0.399,"y":0.727},
      {"x":0.408,"y":0.712},{"x":0.418,"y":0.764},{"x":0.427,"y":0.741},{"x":0.436,"y":0.786},{"x":0.445,"y":0.733},{"x":0.454,"y":0.771},{"x":0.463,"y":0.741},{"x":0.478,"y":0.772},{"x":0.493,"y":0.761},{"x":0.507,"y":0.794},
      {"x":0.516,"y":0.769},{"x":0.520,"y":0.791},{"x":0.511,"y":0.757},{"x":0.498,"y":0.781},{"x":0.484,"y":0.753},
      {"x":0.332,"y":0.128},{"x":0.335,"y":0.071},{"x":0.338,"y":0.142},{"x":0.341,"y":0.098},{"x":0.344,"y":0.034},{"x":0.347,"y":0.117},{"x":0.350,"y":0.151},{"x":0.353,"y":0.062},{"x":0.356,"y":0.134},{"x":0.359,"y":0.088},
      {"x":0.362,"y":0.019},{"x":0.365,"y":0.111},{"x":0.368,"y":0.147},{"x":0.371,"y":0.053},{"x":0.374,"y":0.126},{"x":0.377,"y":0.092},{"x":0.380,"y":0.039},{"x":0.383,"y":0.139},{"x":0.386,"y":0.075},{"x":0.389,"y":0.114},
      {"x":0.392,"y":0.153},{"x":0.395,"y":0.057},{"x":0.398,"y":0.101},{"x":0.401,"y":0.132},{"x":0.404,"y":0.026},{"x":0.407,"y":0.086},{"x":0.410,"y":0.148},{"x":0.413,"y":0.064},{"x":0.416,"y":0.119},{"x":0.419,"y":0.097},
      {"x":0.422,"y":0.042},{"x":0.425,"y":0.137},{"x":0.428,"y":0.078},{"x":0.431,"y":0.115},{"x":0.434,"y":0.155},{"x":0.437,"y":0.051},{"x":0.440,"y":0.104},{"x":0.443,"y":0.133},{"x":0.446,"y":0.069},{"x":0.449,"y":0.016},
      {"x":0.452,"y":0.124},{"x":0.455,"y":0.091},{"x":0.458,"y":0.146},{"x":0.461,"y":0.058},{"x":0.464,"y":0.112},{"x":0.467,"y":0.083},{"x":0.470,"y":0.138},{"x":0.473,"y":0.037},{"x":0.476,"y":0.101},{"x":0.479,"y":0.127},
      {"x":0.482,"y":0.067},{"x":0.485,"y":0.149},{"x":0.488,"y":0.094},{"x":0.491,"y":0.045},{"x":0.494,"y":0.121},{"x":0.497,"y":0.158},{"x":0.500,"y":0.077},{"x":0.503,"y":0.109},{"x":0.506,"y":0.142},{"x":0.509,"y":0.059},
      {"x":0.512,"y":0.164},{"x":0.515,"y":0.098},{"x":0.518,"y":0.131},{"x":0.521,"y":0.176},{"x":0.524,"y":0.073},{"x":0.523,"y":0.118},{"x":0.517,"y":0.153},{"x":0.508,"y":0.024},{"x":0.495,"y":0.087},{"x":0.480,"y":0.011},
      {"x":0.465,"y":0.141},{"x":0.450,"y":0.108},{"x":0.436,"y":0.082},{"x":0.420,"y":0.154},{"x":0.408,"y":0.112},{"x":0.396,"y":0.131},{"x":0.384,"y":0.104},{"x":0.372,"y":0.082},{"x":0.360,"y":0.146},{"x":0.348,"y":0.046},
      {"x":0.337,"y":0.105},{"x":0.342,"y":0.155},{"x":0.357,"y":0.113},{"x":0.376,"y":0.157},{"x":0.391,"y":0.083},{"x":0.414,"y":0.135},{"x":0.427,"y":0.107},{"x":0.444,"y":0.152},{"x":0.459,"y":0.125},{"x":0.474,"y":0.152},
      {"x":0.489,"y":0.133},{"x":0.503,"y":0.163},{"x":0.520,"y":0.199},{"x":0.524,"y":0.225},{"x":0.522,"y":0.261},
      {"x":0.333,"y":0.088},{"x":0.346,"y":0.128},{"x":0.355,"y":0.037},{"x":0.364,"y":0.096},{"x":0.373,"y":0.139},{"x":0.382,"y":0.061},{"x":0.393,"y":0.112},{"x":0.402,"y":0.071},{"x":0.412,"y":0.128},{"x":0.423,"y":0.091},
      {"x":0.433,"y":0.131},{"x":0.441,"y":0.063},{"x":0.453,"y":0.148},{"x":0.462,"y":0.094},{"x":0.471,"y":0.116},{"x":0.483,"y":0.121},{"x":0.492,"y":0.156},{"x":0.501,"y":0.131},{"x":0.511,"y":0.121},{"x":0.519,"y":0.087}
    ],
    "redmagic_points": [
      {"x":0.173,"y":0.476},{"x":0.286,"y":0.458},{"x":0.216,"y":0.390},{"x":0.240,"y":0.376},{"x":0.237,"y":0.353},{"x":0.257,"y":0.359},{"x":0.262,"y":0.377},{"x":0.270,"y":0.363},{"x":0.280,"y":0.386},{"x":0.284,"y":0.384},
      {"x":0.303,"y":0.406},{"x":0.318,"y":0.435},{"x":0.314,"y":0.418},{"x":0.369,"y":0.543},{"x":0.344,"y":0.484},{"x":0.356,"y":0.469},{"x":0.369,"y":0.492},{"x":0.371,"y":0.508},{"x":0.382,"y":0.508},{"x":0.392,"y":0.559},
      {"x":0.402,"y":0.571},{"x":0.412,"y":0.539},{"x":0.422,"y":0.571},{"x":0.441,"y":0.622},{"x":0.448,"y":0.594},{"x":0.456,"y":0.649},{"x":0.466,"y":0.704},{"x":0.476,"y":0.704},{"x":0.489,"y":0.731},{"x":0.509,"y":0.743},
      {"x":0.478,"y":0.696},{"x":0.491,"y":0.688},{"x":0.438,"y":0.665},{"x":0.154,"y":0.232},{"x":0.188,"y":0.272},{"x":0.195,"y":0.300},{"x":0.246,"y":0.340},{"x":0.252,"y":0.346},{"x":0.266,"y":0.358},{"x":0.291,"y":0.394},
      {"x":0.298,"y":0.400},{"x":0.326,"y":0.440},{"x":0.333,"y":0.452},{"x":0.350,"y":0.470},{"x":0.363,"y":0.480},{"x":0.376,"y":0.498},{"x":0.395,"y":0.515},{"x":0.405,"y":0.522},{"x":0.416,"y":0.548},{"x":0.426,"y":0.585},
      {"x":0.431,"y":0.600},{"x":0.460,"y":0.660},{"x":0.470,"y":0.672},{"x":0.484,"y":0.690},{"x":0.498,"y":0.705},{"x":0.502,"y":0.722},{"x":0.450,"y":0.640},
      {"x":0.515,"y":0.672},{"x":0.517,"y":0.684},{"x":0.519,"y":0.668},{"x":0.520,"y":0.695},{"x":0.521,"y":0.677},{"x":0.522,"y":0.705},{"x":0.523,"y":0.688},{"x":0.524,"y":0.672},{"x":0.518,"y":0.702},{"x":0.516,"y":0.690},
      {"x":0.520,"y":0.716},{"x":0.522,"y":0.728},{"x":0.524,"y":0.741},{"x":0.521,"y":0.756},{"x":0.523,"y":0.768},{"x":0.524,"y":0.782},{"x":0.522,"y":0.795},{"x":0.519,"y":0.776},{"x":0.517,"y":0.749},{"x":0.514,"y":0.712},
      {"x":0.512,"y":0.683},{"x":0.524,"y":0.699},{"x":0.523,"y":0.715},{"x":0.518,"y":0.736},{"x":0.521,"y":0.664},{"x":0.513,"y":0.669},{"x":0.524,"y":0.659},
      {"x":0.352,"y":0.243},{"x":0.358,"y":0.235},{"x":0.362,"y":0.249},{"x":0.367,"y":0.228},{"x":0.371,"y":0.241},{"x":0.375,"y":0.253},{"x":0.379,"y":0.232},{"x":0.383,"y":0.247},{"x":0.386,"y":0.226},{"x":0.390,"y":0.257},
      {"x":0.394,"y":0.238},{"x":0.397,"y":0.224},{"x":0.401,"y":0.251},{"x":0.404,"y":0.236},{"x":0.408,"y":0.262},{"x":0.411,"y":0.229},{"x":0.414,"y":0.247},{"x":0.418,"y":0.268},{"x":0.421,"y":0.241},{"x":0.424,"y":0.258},
      {"x":0.427,"y":0.273},{"x":0.430,"y":0.232},{"x":0.433,"y":0.266},{"x":0.436,"y":0.281},{"x":0.438,"y":0.251},{"x":0.441,"y":0.272},{"x":0.444,"y":0.236},{"x":0.446,"y":0.288},{"x":0.449,"y":0.262},{"x":0.451,"y":0.297},
      {"x":0.453,"y":0.277},{"x":0.455,"y":0.246},{"x":0.457,"y":0.303},{"x":0.459,"y":0.284},{"x":0.461,"y":0.265},{"x":0.463,"y":0.312},{"x":0.465,"y":0.293},{"x":0.467,"y":0.274},{"x":0.469,"y":0.321},{"x":0.471,"y":0.301},
      {"x":0.473,"y":0.282},{"x":0.475,"y":0.258},{"x":0.477,"y":0.331},{"x":0.479,"y":0.309},{"x":0.481,"y":0.288},{"x":0.483,"y":0.339},{"x":0.485,"y":0.318},{"x":0.487,"y":0.297},{"x":0.489,"y":0.352},{"x":0.491,"y":0.327},
      {"x":0.493,"y":0.306},{"x":0.495,"y":0.276},{"x":0.497,"y":0.341},{"x":0.499,"y":0.319},{"x":0.501,"y":0.362},{"x":0.503,"y":0.333},{"x":0.505,"y":0.297},{"x":0.507,"y":0.371},{"x":0.509,"y":0.346},{"x":0.511,"y":0.318},
      {"x":0.513,"y":0.383},{"x":0.515,"y":0.357},{"x":0.517,"y":0.392},{"x":0.519,"y":0.368},{"x":0.521,"y":0.405},{"x":0.523,"y":0.381},{"x":0.525,"y":0.359},{"x":0.470,"y":0.247},{"x":0.478,"y":0.268},{"x":0.486,"y":0.251},
      {"x":0.462,"y":0.238},{"x":0.455,"y":0.219},{"x":0.448,"y":0.226},{"x":0.440,"y":0.212},{"x":0.434,"y":0.247},{"x":0.426,"y":0.229},{"x":0.418,"y":0.215},{"x":0.410,"y":0.245},{"x":0.403,"y":0.216},{"x":0.392,"y":0.222},
      {"x":0.381,"y":0.213},{"x":0.368,"y":0.219},{"x":0.488,"y":0.274},{"x":0.496,"y":0.298},{"x":0.504,"y":0.318},{"x":0.512,"y":0.342},{"x":0.518,"y":0.330},{"x":0.509,"y":0.288},{"x":0.498,"y":0.262},{"x":0.474,"y":0.232},
      {"x":0.458,"y":0.254},{"x":0.443,"y":0.258},{"x":0.432,"y":0.215},
      {"x":0.387,"y":0.140},{"x":0.438,"y":0.089},{"x":0.460,"y":0.061},{"x":0.474,"y":0.018},{"x":0.465,"y":0.210},{"x":0.481,"y":0.222},{"x":0.509,"y":0.230},{"x":0.501,"y":0.292},{"x":0.325,"y":0.008},{"x":0.224,"y":0.136},
      {"x":0.239,"y":0.132},{"x":0.242,"y":0.157},{"x":0.264,"y":0.155},{"x":0.290,"y":0.180},{"x":0.312,"y":0.205},{"x":0.335,"y":0.222},{"x":0.343,"y":0.232}
    ]
  },
  "config": {
    "view": {"stroke": "#1e1e1e", "strokeWidth": 1.5},
    "axis": {
      "labelFont": "DejaVu Serif",
      "labelFontSize": 15.5,
      "labelColor": "#111111",
      "titleFont": "DejaVu Serif",
      "titleFontSize": 17,
      "titleFontWeight": "normal",
      "titleColor": "#111111",
      "grid": false,
      "tickColor": "#1e1e1e",
      "domainColor": "#1e1e1e",
      "domainWidth": 1.5
    }
  }
}
